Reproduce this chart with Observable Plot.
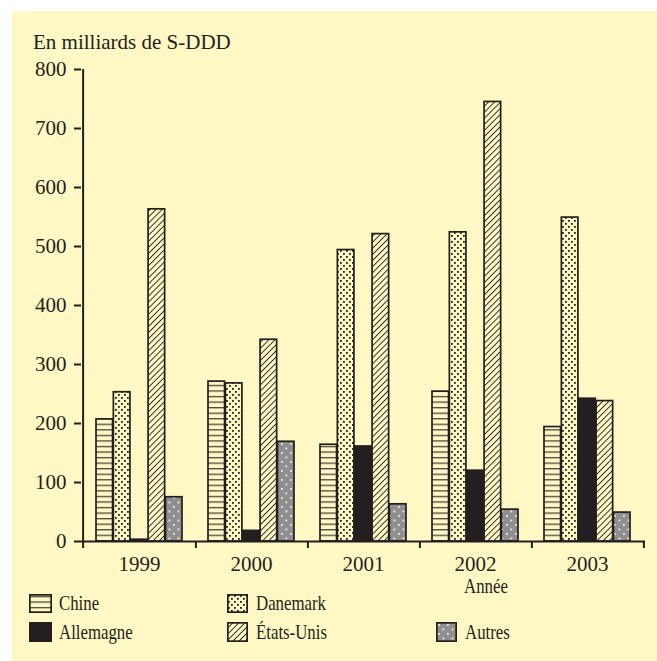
<!DOCTYPE html>
<html><head><meta charset="utf-8">
<script src="https://cdn.jsdelivr.net/npm/d3@7"></script>
<script src="https://cdn.jsdelivr.net/npm/@observablehq/plot@0.6"></script>
<style>
html,body{margin:0;padding:0;background:#fff;}
#wrap{position:relative;width:657px;height:661px;overflow:hidden;font-family:"Liberation Serif","Times New Roman",serif;color:#231f20;}
#panel{position:absolute;left:12px;top:11px;right:0;bottom:0;background:#fef8c4;}
#chart{position:absolute;left:0;top:0;}
.t{position:absolute;white-space:nowrap;line-height:1;font-size:21px;}
.c{transform:scaleX(0.8);transform-origin:0 0;}
.sw{position:absolute;}
</style></head><body>
<div id="wrap"><div id="panel"></div><div id="chart"></div>
<div class="t" style="left:33px;top:32px;">En milliards de S-DDD</div>
<div class="t c" style="left:464px;top:576px;">Année</div>
<div id="legend"></div></div>
<script>
const years = ["1999", "2000", "2001", "2002", "2003"];
const series = ["Chine", "Danemark", "Allemagne", "États-Unis", "Autres"];
const chine = [207, 271, 164, 254, 194];
const danemark = [253, 268, 494, 524, 549];
const allemagne = [3, 18, 161, 120, 242];
const etatsUnis = [563, 342, 521, 745, 238];
const autres = [75, 169, 63, 54, 49];
const yTicks = [0, 100, 200, 300, 400, 500, 600, 700, 800];

const valuesBySeries = [chine, danemark, allemagne, etatsUnis, autres];
const fills = ["url(#p-chine)", "url(#p-dan)", "#231f20", "url(#p-eu)", "url(#p-aut)"];
const ink = "#231f20";

const W = 657, H = 580, mL = 81, mR = 12, mT = 69, mB = 39;
const bw = (W - mL - mR) / years.length;
const outer = 13, barW = (bw - 2 * outer) / series.length;

const barMarks = series.map((s, i) => Plot.barY(years, {
  x: d => d,
  y: (d, j) => valuesBySeries[i][j],
  fill: fills[i],
  stroke: ink,
  strokeWidth: 1.7,
  insetLeft: outer + i * barW,
  insetRight: bw - outer - (i + 1) * barW
}));

const chart = Plot.plot({
  width: W, height: H,
  marginLeft: mL, marginRight: mR, marginTop: mT, marginBottom: mB,
  style: {background: "transparent", fontFamily: "'Liberation Serif', 'Times New Roman', serif", fontSize: "21px", color: ink, overflow: "visible"},
  x: {domain: years, padding: 0, axis: null},
  y: {domain: [0, 800], axis: null},
  marks: [
    ...barMarks,
    Plot.ruleY([0], {stroke: ink, strokeWidth: 2}),
    Plot.ruleX([years[0]], {dx: -bw / 2, y1: 0, y2: 800, stroke: ink, strokeWidth: 2}),
    Plot.axisX({ticks: [years[0]], dx: -bw / 2, tickSize: 7, text: null, stroke: ink, strokeWidth: 2}),
    Plot.axisX({ticks: years, dx: bw / 2, tickSize: 7, text: null, stroke: ink, strokeWidth: 2}),
    Plot.axisX({ticks: years, tickSize: 0, tickPadding: 15, fontSize: 21, fill: ink, label: null}),
    Plot.axisY({ticks: yTicks, tickSize: 7, tickPadding: 8, fontSize: 21, fill: ink, stroke: ink, strokeWidth: 2, label: null, tickFormat: d => String(d)})
  ]
});

d3.select(chart).insert("defs", ":first-child").html(`
<pattern id="p-chine" patternUnits="userSpaceOnUse" width="8" height="5.55">
  <rect width="8" height="5.55" fill="#fef8c4"/>
  <rect y="2" width="8" height="1.1" fill="#2b2728"/>
</pattern>
<pattern id="p-dan" patternUnits="userSpaceOnUse" width="6" height="6">
  <rect width="6" height="6" fill="#fef8c4"/>
  <rect x="1" y="1" width="1.8" height="1.8" fill="#231f20"/>
  <rect x="4" y="4" width="1.8" height="1.8" fill="#231f20"/>
</pattern>
<pattern id="p-eu" patternUnits="userSpaceOnUse" width="4.3" height="10" patternTransform="rotate(45)">
  <rect width="4.3" height="10" fill="#fef8c4"/>
  <rect width="0.9" height="10" fill="#231f20"/>
</pattern>
<pattern id="p-aut" patternUnits="userSpaceOnUse" width="9" height="9">
  <rect width="9" height="9" fill="#8e8f93"/>
  <rect x="2" y="2" width="1.8" height="1.8" fill="#f6f0b8"/>
  <rect x="6.5" y="6.5" width="1.8" height="1.8" fill="#f6f0b8"/>
</pattern>`);

document.getElementById("chart").appendChild(chart);

// legend
const legendPos = [
  {sx: 29, sy: 594, w: 23, h: 19, tx: 59},
  {sx: 227, sy: 594, w: 21, h: 19, tx: 256},
  {sx: 29, sy: 622, w: 23, h: 20, tx: 59},
  {sx: 227, sy: 622, w: 21, h: 20, tx: 256},
  {sx: 436, sy: 622, w: 21, h: 20, tx: 465}
];
const legend = document.getElementById("legend");
series.forEach((s, i) => {
  const p = legendPos[i];
  const svg = d3.create("svg").attr("class", "sw").attr("width", p.w).attr("height", p.h)
    .style("left", p.sx + "px").style("top", p.sy + "px");
  svg.append("rect").attr("x", 0.85).attr("y", 0.85).attr("width", p.w - 1.7).attr("height", p.h - 1.7)
    .attr("fill", fills[i]).attr("stroke", ink).attr("stroke-width", 1.7);
  legend.appendChild(svg.node());
  const t = document.createElement("div");
  t.className = "t c";
  t.textContent = s;
  t.style.left = p.tx + "px";
  t.style.top = (p.sy + p.h - 2 - 17.6) + "px";
  legend.appendChild(t);
});
</script>
</body></html>
